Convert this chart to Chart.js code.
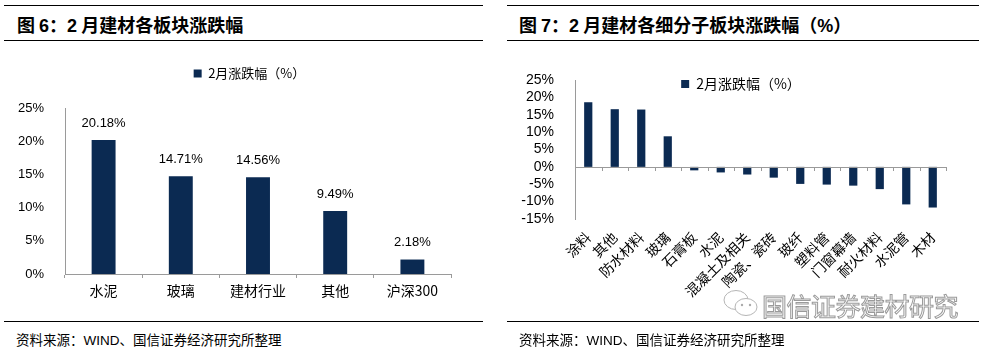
<!DOCTYPE html>
<html>
<head>
<meta charset="utf-8">
<script src="https://cdn.jsdelivr.net/npm/chart.js@4.4.1/dist/chart.umd.min.js"></script>
<style>
  body { margin:0; width:986px; height:353px; background:#fff; position:relative; overflow:hidden;
         font-family:"Noto Sans CJK SC", sans-serif; }
  .rule { position:absolute; height:0; border-top:1.5px solid #000; }
  .title { position:absolute; top:12px; font-size:18px; font-weight:bold; color:#000; white-space:nowrap; line-height:24px; }
  .title b { font-family:"Liberation Sans", Arial, sans-serif; }
  .src { position:absolute; top:329px; font-size:13.5px; color:#000; white-space:nowrap; line-height:20px; }
  .src span { font-family:"Liberation Sans Narrow","Liberation Sans",Arial,sans-serif; }
  canvas { position:absolute; }
  .mark { position:absolute; left:762px; top:287px; font-size:25px; color:#fff; -webkit-text-stroke:1px #9a9a9a;
          white-space:nowrap; letter-spacing:-0.5px; }
</style>
</head>
<body>

<div class="rule" style="left:4px;top:5px;width:479px"></div>
<div class="title" style="left:17px">图 <b>6</b>：<b>2</b> 月建材各板块涨跌幅</div>
<div class="rule" style="left:4px;top:40px;width:479px"></div>

<div class="rule" style="left:507px;top:5px;width:472px"></div>
<div class="title" style="left:519px">图 <b>7</b>：<b>2</b> 月建材各细分子板块涨跌幅（<b>%</b>）</div>
<div class="rule" style="left:507px;top:40px;width:472px"></div>

<canvas id="leftChart" width="483" height="270" style="left:0;top:45px"></canvas>
<canvas id="rightChart" width="486" height="270" style="left:500px;top:45px"></canvas>

<svg style="position:absolute;left:722px;top:289px" width="38" height="30">
  <ellipse cx="14" cy="11" rx="12" ry="9.5" fill="#fff" stroke="#b5b5b5" stroke-width="1"/>
  <ellipse cx="24" cy="18" rx="11" ry="8.5" fill="#fff" stroke="#b5b5b5" stroke-width="1"/>
  <circle cx="20" cy="16" r="1.2" fill="#aaa"/><circle cx="28" cy="16" r="1.2" fill="#aaa"/>
</svg>
<div class="mark">国信证券建材研究</div>

<div class="rule" style="left:4px;top:321px;width:479px;border-top-width:1px"></div>
<div class="src" style="left:16px">资料来源：<span>WIND</span>、国信证券经济研究所整理</div>
<div class="rule" style="left:507px;top:321px;width:472px;border-top-width:1px"></div>
<div class="src" style="left:519px">资料来源：<span>WIND</span>、国信证券经济研究所整理</div>

<script>
// 图6 数据
const sectors = ['水泥', '玻璃', '建材行业', '其他', '沪深300'];
const sectorChange = [20.18, 14.71, 14.56, 9.49, 2.18];
const sectorTicks = { min: 0, max: 25, step: 5 };

// 图7 数据
const subSectors = ['涂料', '其他', '防水材料', '玻璃', '石膏板', '水泥', '混凝土及相关',
  '陶瓷、瓷砖', '玻纤', '塑料管', '门窗幕墙', '耐火材料', '水泥管', '木材'];
const subChange = [18.6, 16.6, 16.5, 8.8, -1.0, -1.6, -2.2, -3.1, -4.9, -5.1, -5.4, -6.4, -10.8, -11.7];
const subTicks = { min: -15, max: 25, step: 5 };

const seriesName = '2月涨跌幅（%）';
const barColor = '#0b2a52';
const axisColor = '#9a9a9a';
const cjk = '"Noto Sans CJK SC", sans-serif';
const latin = '"Liberation Sans", Arial, sans-serif';

// move the legend after layout
function legendShift(dx, dy) {
  return {
    id: 'legendShift',
    afterLayout(chart) {
      const lg = chart.legend;
      lg.left += dx; lg.right += dx;
      lg.top += dy; lg.bottom += dy;
    }
  };
}

const valueLabels = {
  id: 'valueLabels',
  afterDatasetsDraw(chart) {
    const ctx = chart.ctx;
    const vals = chart.data.datasets[0].data;
    ctx.save();
    ctx.font = '13px ' + latin;
    ctx.fillStyle = '#000';
    ctx.textAlign = 'center';
    ctx.textBaseline = 'middle';
    chart.getDatasetMeta(0).data.forEach((bar, i) => {
      ctx.fillText(vals[i].toFixed(2) + '%', bar.x, bar.y - 17);
    });
    ctx.restore();
  }
};

// axis line at zero with small ticks between categories
const zeroTicks = {
  id: 'zeroTicks',
  afterDatasetsDraw(chart) {
    const xs = chart.scales.x, ys = chart.scales.y;
    const y0 = Math.round(ys.getPixelForValue(0));
    const n = chart.data.labels.length;
    const step = xs.width / n;
    const ctx = chart.ctx;
    ctx.save();
    ctx.strokeStyle = axisColor;
    ctx.lineWidth = 1;
    ctx.beginPath();
    ctx.moveTo(xs.left, y0 + 0.5); ctx.lineTo(xs.right, y0 + 0.5);
    for (let i = 0; i <= n; i++) {
      const px = Math.round(xs.left + i * step) + 0.5;
      ctx.moveTo(px, y0); ctx.lineTo(px, y0 + 4);
    }
    ctx.stroke();
    ctx.restore();
  }
};

new Chart(document.getElementById('leftChart'), {
  type: 'bar',
  data: {
    labels: sectors,
    datasets: [{ label: seriesName, data: sectorChange, backgroundColor: barColor,
      categoryPercentage: 1, barPercentage: 0.31 }]
  },
  options: {
    responsive: false,
    animation: false,
    layout: { padding: { left: 0, right: 32, top: 30, bottom: 0 } },
    plugins: {
      legend: {
        labels: { boxWidth: 8, boxHeight: 8, color: '#000', padding: 10, font: { family: cjk, size: 13 } }
      },
      tooltip: { enabled: false }
    },
    scales: {
      x: {
        grid: { display: true, drawOnChartArea: false, offset: true, tickLength: 4, color: axisColor },
        border: { color: axisColor },
        ticks: { color: '#000', padding: 4, font: { family: cjk, size: 14 } },
        afterFit: s => { s.height = 41; }
      },
      y: {
        min: sectorTicks.min, max: sectorTicks.max,
        grid: { display: false },
        border: { color: axisColor },
        ticks: { stepSize: sectorTicks.step, padding: 13, color: '#000',
          font: { family: latin, size: 13 }, callback: v => v + '%' },
        afterFit: s => { s.width = 65; }
      }
    }
  },
  plugins: [valueLabels, legendShift(24, -18)]
});

new Chart(document.getElementById('rightChart'), {
  type: 'bar',
  data: {
    labels: subSectors,
    datasets: [{ label: seriesName, data: subChange, backgroundColor: barColor,
      categoryPercentage: 1, barPercentage: 0.31 }]
  },
  options: {
    responsive: false,
    animation: false,
    layout: { padding: { left: 0, right: 40, top: 9, bottom: 0 } },
    plugins: {
      legend: {
        labels: { boxWidth: 8, boxHeight: 8, color: '#000', padding: 2, font: { family: cjk, size: 14 } }
      },
      tooltip: { enabled: false }
    },
    scales: {
      x: {
        grid: { display: false },
        border: { display: false },
        ticks: { color: '#000', padding: 2, maxRotation: 45, minRotation: 45, autoSkip: false,
          font: { family: cjk, size: 14 } },
        afterFit: s => { s.height = 96; }
      },
      y: {
        min: subTicks.min, max: subTicks.max,
        grid: { display: false },
        border: { color: axisColor },
        ticks: { stepSize: subTicks.step, padding: 13, color: '#000', autoSkip: false,
          font: { family: latin, size: 14 }, callback: v => v + '%' },
        afterFit: s => { s.width = 75; }
      }
    }
  },
  plugins: [zeroTicks, legendShift(18, 21)]
});
</script>
</body>
</html>
